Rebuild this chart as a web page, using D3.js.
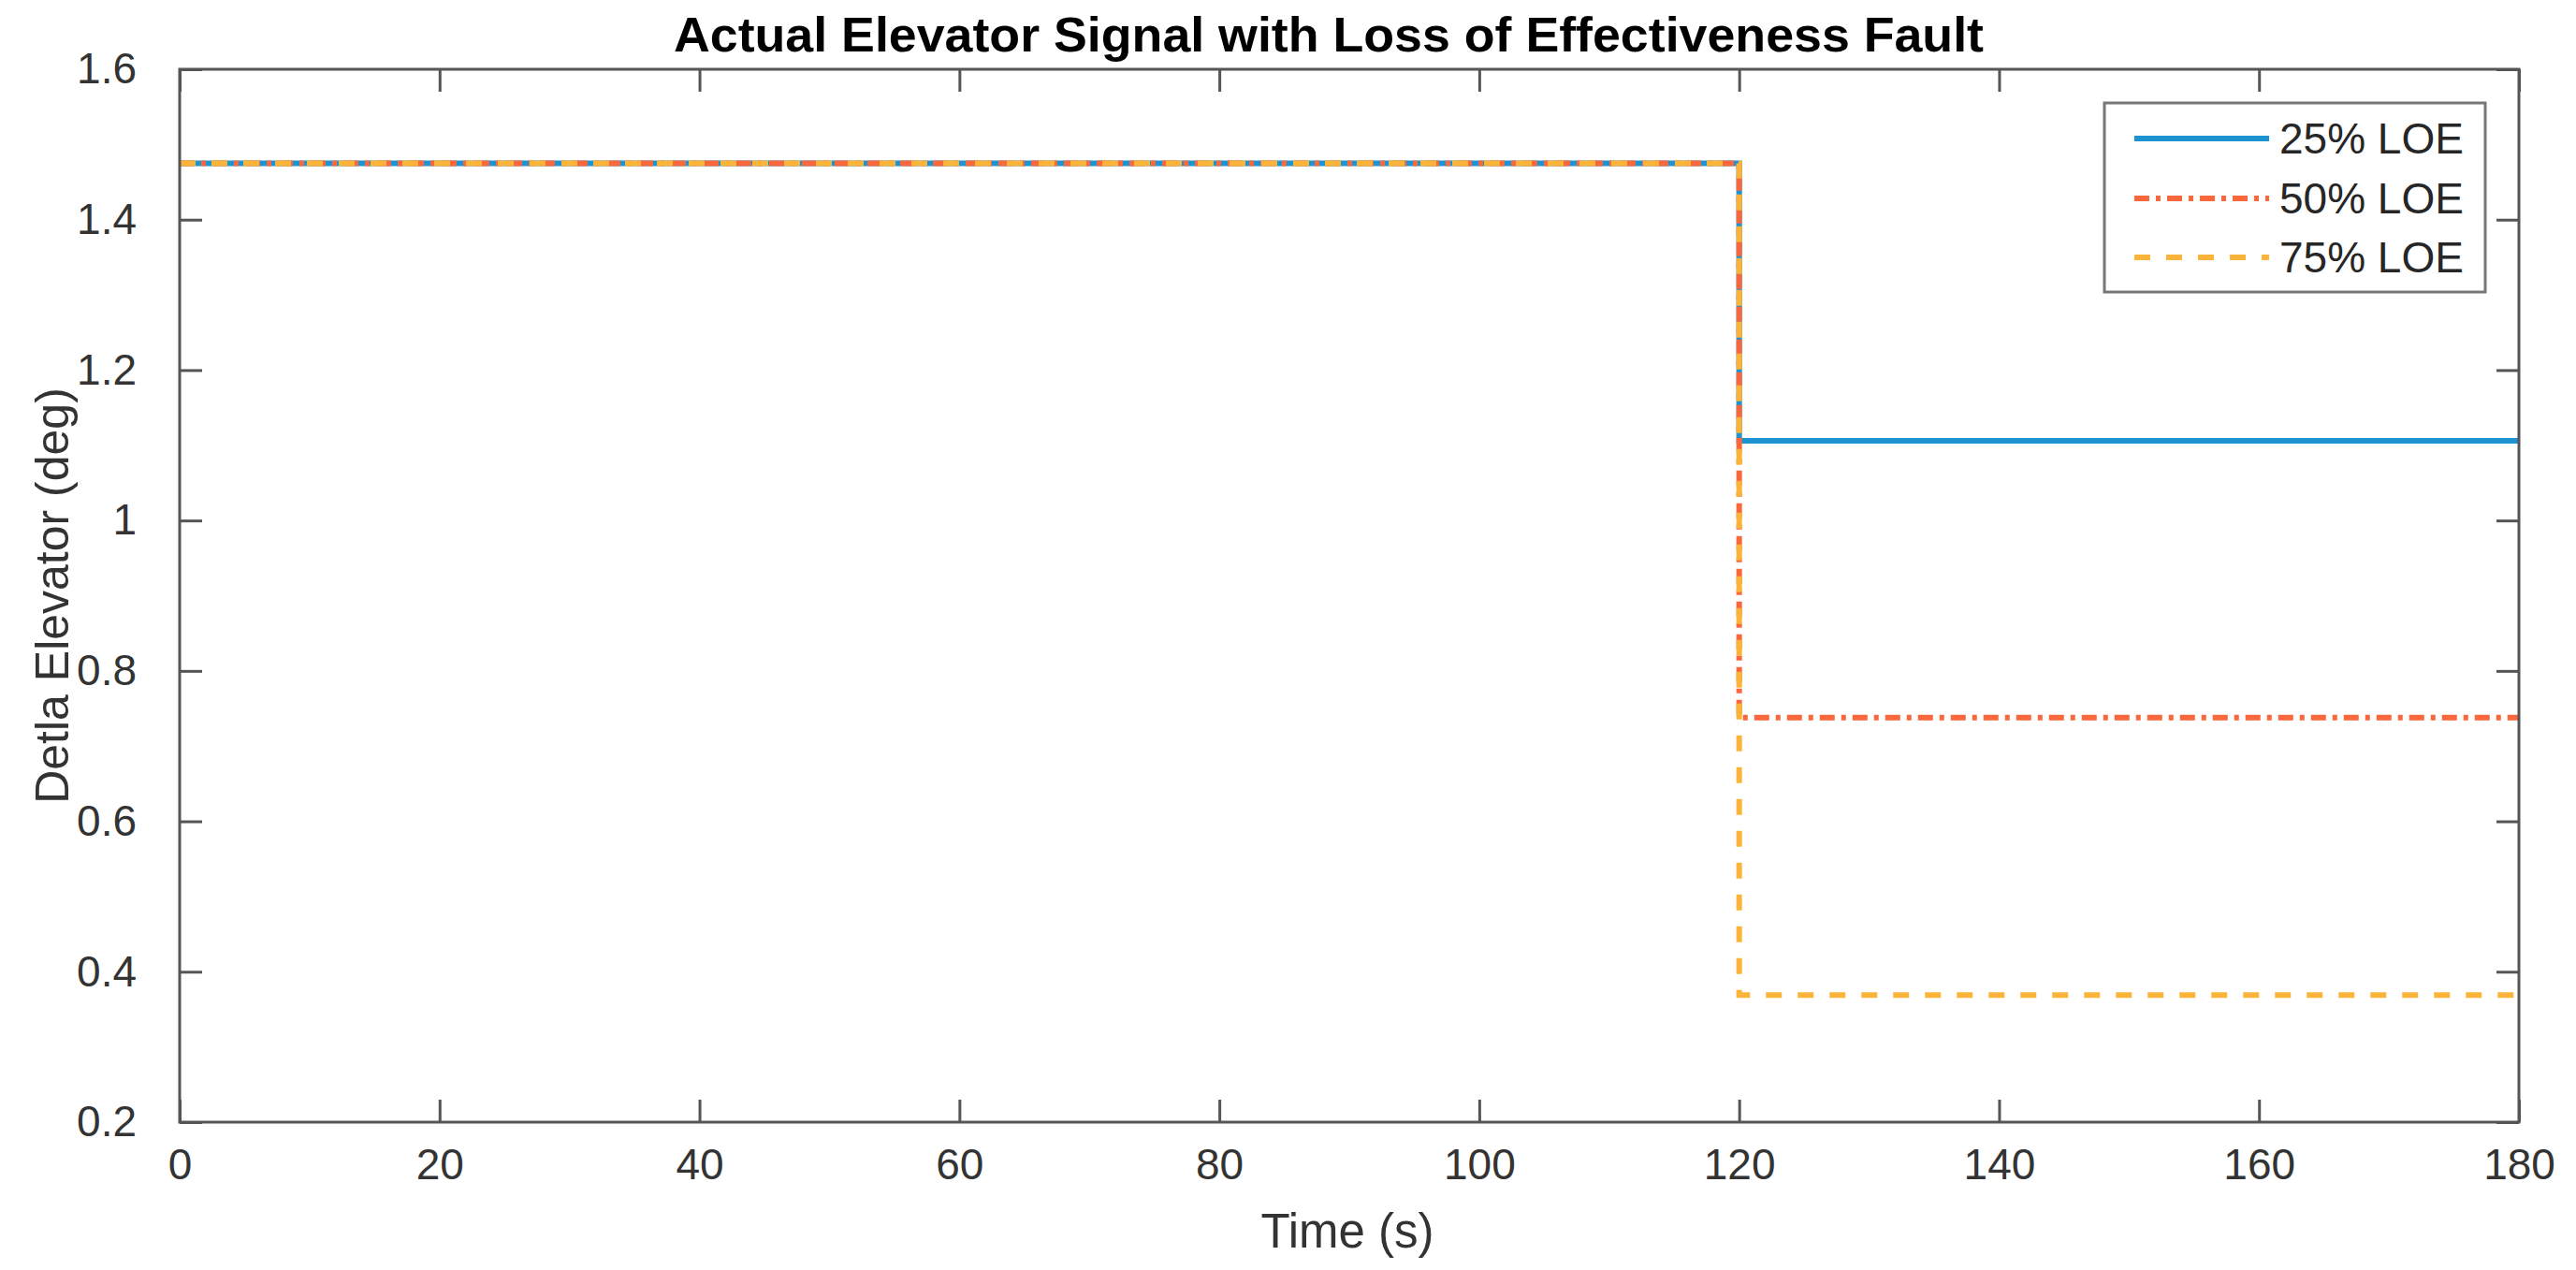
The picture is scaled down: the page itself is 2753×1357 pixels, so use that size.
<!DOCTYPE html>
<html>
<head>
<meta charset="utf-8">
<script src="https://cdn.jsdelivr.net/npm/d3@7"></script>
<style>
  body { margin: 0; background: #fff; }
  text { font-family: "Liberation Sans", Arial, sans-serif; }
</style>
</head>
<body>
<div id="chart"></div>
<script>
// step signal
var timeSteps = [0, 120, 120, 180];
var loe25 = [1.475, 1.475, 1.106, 1.106];
var loe50 = [1.475, 1.475, 0.738, 0.738];
var loe75 = [1.475, 1.475, 0.369, 0.369];
var seriesNames = ["25% LOE", "50% LOE", "75% LOE"];
var xTicks = [0, 20, 40, 60, 80, 100, 120, 140, 160, 180];
var yTicks = [0.2, 0.4, 0.6, 0.8, 1, 1.2, 1.4, 1.6];

((() => {
  var width = 2753, height = 1357;
  var left = 192, right = 2692, top = 74, bottom = 1199;
  var axisColor = "#555";

  var svg = d3.select("#chart").append("svg")
    .attr("width", width)
    .attr("height", height);

  var x = d3.scaleLinear().domain([0, 180]).range([left, right]);
  var y = d3.scaleLinear().domain([0.2, 1.6]).range([bottom, top]);

  var styles = [
    { color: "#1d93d2", dash: null },
    { color: "#f8683c", dash: "16,7,5,7" },
    { color: "#fbb43a", dash: "17,17" }
  ];
  var series = [loe25, loe50, loe75].map(function(vals, i) {
    return { name: seriesNames[i], style: styles[i],
      points: vals.map(function(v, j) { return [timeSteps[j], v]; }) };
  });

  var line = d3.line()
    .x(function(d) { return x(d[0]); })
    .y(function(d) { return y(d[1]); });

  svg.append("g").selectAll("path")
    .data(series)
    .enter()
    .append("path")
    .attr("d", function(d) { return line(d.points); })
    .attr("fill", "none")
    .attr("stroke", function(d) { return d.style.color; })
    .attr("stroke-width", 6)
    .attr("stroke-dasharray", function(d) { return d.style.dash; });

  // axes, ticks inward on all four sides
  var tickLen = 24;
  function styleAxis(g) {
    g.select(".domain").remove();
    g.selectAll(".tick line").attr("stroke", axisColor).attr("stroke-width", 3);
    g.selectAll(".tick text")
      .attr("fill", "#333")
      .style("font-size", "46px")
      .style("font-family", "'Liberation Sans', Arial, sans-serif");
  }

  svg.append("g")
    .attr("transform", "translate(0," + bottom + ")")
    .call(d3.axisBottom(x).tickValues(xTicks).tickSizeInner(-tickLen).tickSizeOuter(0).tickPadding(28))
    .call(styleAxis);
  svg.append("g")
    .attr("transform", "translate(0," + top + ")")
    .call(d3.axisTop(x).tickValues(xTicks).tickSizeInner(-tickLen).tickSizeOuter(0).tickFormat(""))
    .call(styleAxis);
  svg.append("g")
    .attr("transform", "translate(" + left + ",0)")
    .call(d3.axisLeft(y).tickValues(yTicks).tickSizeInner(-tickLen).tickSizeOuter(0).tickPadding(46)
      .tickFormat(function(d) { return String(+d.toFixed(1)); }))
    .call(styleAxis);
  svg.append("g")
    .attr("transform", "translate(" + right + ",0)")
    .call(d3.axisRight(y).tickValues(yTicks).tickSizeInner(-tickLen).tickSizeOuter(0).tickFormat(""))
    .call(styleAxis);

  svg.append("rect")
    .attr("x", left).attr("y", top)
    .attr("width", right - left).attr("height", bottom - top)
    .attr("fill", "none")
    .attr("stroke", axisColor)
    .attr("stroke-width", 3);

  // labels
  svg.append("text")
    .attr("x", 1420).attr("y", 55)
    .attr("text-anchor", "middle")
    .attr("textLength", 1400)
    .attr("lengthAdjust", "spacingAndGlyphs")
    .style("font-size", "52px")
    .style("font-weight", "bold")
    .attr("fill", "#000")
    .text("Actual Elevator Signal with Loss of Effectiveness Fault");

  svg.append("text")
    .attr("x", 1440).attr("y", 1333)
    .attr("text-anchor", "middle")
    .style("font-size", "51px")
    .attr("fill", "#333")
    .text("Time (s)");

  svg.append("text")
    .attr("transform", "translate(73," + (top + bottom) / 2 + ") rotate(-90)")
    .attr("text-anchor", "middle")
    .style("font-size", "50px")
    .attr("fill", "#333")
    .text("Detla Elevator (deg)");

  // legend
  var legend = svg.append("g").attr("class", "legend");
  legend.append("rect")
    .attr("x", 2249).attr("y", 110)
    .attr("width", 407).attr("height", 202)
    .attr("fill", "#fff")
    .attr("stroke", "#777")
    .attr("stroke-width", 3);

  var rowY = [148, 212, 275];
  series.forEach(function(s, i) {
    legend.append("line")
      .attr("x1", 2281).attr("x2", 2425)
      .attr("y1", rowY[i]).attr("y2", rowY[i])
      .attr("stroke", s.style.color)
      .attr("stroke-width", 6)
      .attr("stroke-dasharray", s.style.dash);
    legend.append("text")
      .attr("x", 2436).attr("y", rowY[i])
      .attr("dominant-baseline", "central")
      .style("font-size", "46px")
      .attr("fill", "#262626")
      .text(s.name);
  });
})());
</script>
</body>
</html>
